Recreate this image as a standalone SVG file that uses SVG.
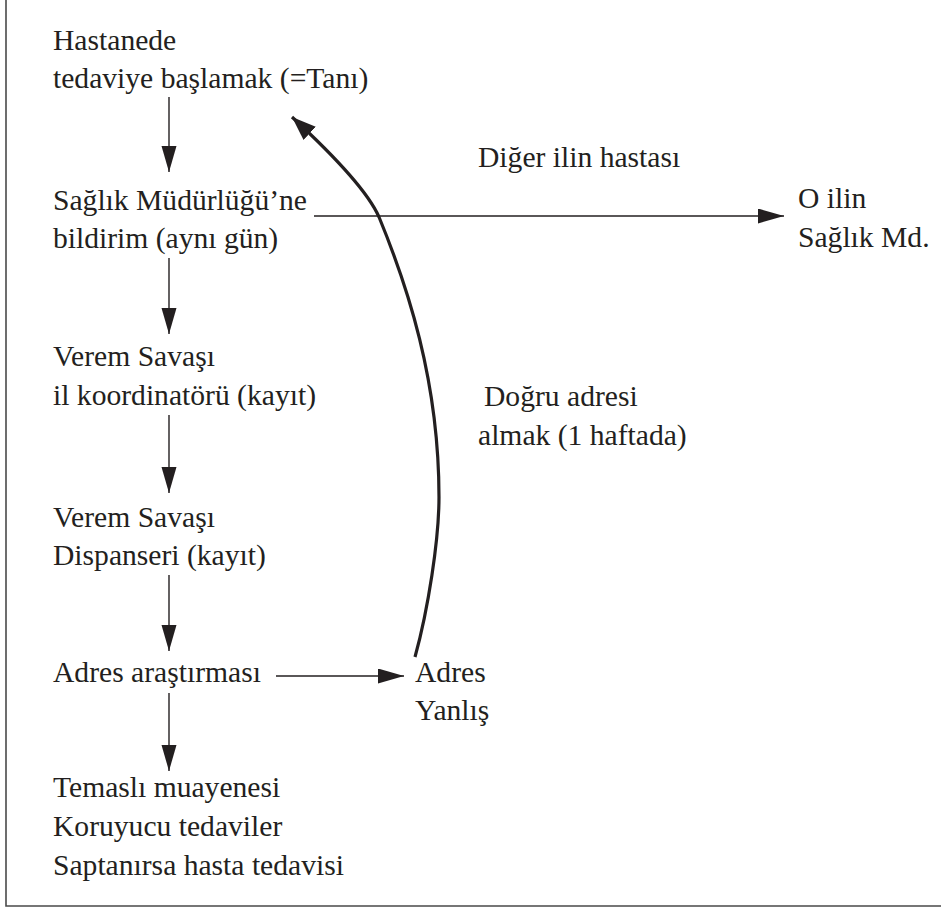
<svg xmlns="http://www.w3.org/2000/svg" width="941" height="912" viewBox="0 0 941 912">
<style>
text{font-family:'Liberation Serif',serif;font-size:29.6px;fill:#231f20}
.ln{stroke:#231f20;stroke-width:1.4;fill:none}
.cv{stroke:#231f20;stroke-width:3.2;fill:none}
</style>
<defs>
<marker id="ah" markerUnits="userSpaceOnUse" markerWidth="28" markerHeight="18" refX="26" refY="7.5" orient="auto">
<path d="M0,0 L26,7.5 L0,15 Z" fill="#231f20"/>
</marker>
<marker id="ahc" markerUnits="userSpaceOnUse" markerWidth="30" markerHeight="22" refX="24" refY="9" orient="auto">
<path d="M0,0 L24,9 L0,18 Z" fill="#231f20"/>
</marker>
</defs>
<rect width="941" height="912" fill="#fff"/>
<path d="M6,0 V906 H941" fill="none" stroke="#4a4a4a" stroke-width="1.6"/>

<g id="connectors">
<line class="ln" x1="169" y1="97" x2="169" y2="172" marker-end="url(#ah)"/>
<line class="ln" x1="169" y1="258" x2="169" y2="334" marker-end="url(#ah)"/>
<line class="ln" x1="169" y1="415" x2="169" y2="493" marker-end="url(#ah)"/>
<line class="ln" x1="169" y1="575" x2="169" y2="651" marker-end="url(#ah)"/>
<line class="ln" x1="169" y1="693" x2="169" y2="771" marker-end="url(#ah)"/>
<line class="ln" x1="314" y1="216" x2="784" y2="216" marker-end="url(#ah)"/>
<line class="ln" x1="276" y1="676" x2="404" y2="676" marker-end="url(#ah)"/>
<path class="cv" d="M415,657 C428,610 439,540 439,497 C439,380 407,285 379,217 C368,192 330,152 292,117" marker-end="url(#ahc)"/>
</g>

<g id="n1"><text x="53" y="50">Hastanede</text><text x="53" y="88">tedaviye başlamak (=Tanı)</text></g>
<g id="n2"><text x="53" y="210">Sağlık Müdürlüğü’ne</text><text x="53" y="248">bildirim (aynı gün)</text></g>
<g id="n3"><text x="53" y="366">Verem Savaşı</text><text x="53" y="405">il koordinatörü (kayıt)</text></g>
<g id="n4"><text x="53" y="527">Verem Savaşı</text><text x="53" y="565">Dispanseri (kayıt)</text></g>
<g id="n5"><text x="53" y="682">Adres araştırması</text></g>
<g id="n6"><text x="53" y="797">Temaslı muayenesi</text><text x="53" y="836">Koruyucu tedaviler</text><text x="53" y="875">Saptanırsa hasta tedavisi</text></g>
<g id="n7"><text x="798" y="208">O ilin</text><text x="798" y="247">Sağlık Md.</text></g>
<g id="n8"><text x="415" y="682">Adres</text><text x="415" y="720">Yanlış</text></g>
<g id="l1"><text x="478" y="167">Diğer ilin hastası</text></g>
<g id="l2"><text x="484" y="406">Doğru adresi</text><text x="478" y="445">almak (1 haftada)</text></g>
</svg>
